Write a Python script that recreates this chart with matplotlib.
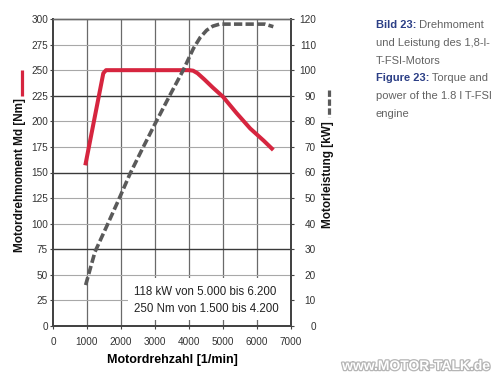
import numpy as np
import matplotlib.pyplot as plt
import matplotlib.patheffects as pe
from matplotlib.lines import Line2D
from matplotlib.patches import Rectangle

plt.rcParams['font.family'] = ['Liberation Sans', 'DejaVu Sans']

# torque curve (rpm, Nm)
rpm_torque = [950, 1480, 1560, 4000, 4120, 4250, 4450, 4700, 5000, 5400, 5800, 6200, 6480]
torque = [157, 247, 250, 250, 249.5, 247, 241, 233, 224, 208, 193, 181, 172]

# power curve (rpm, kW)
rpm_power = [960, 1235, 1580, 1920, 2265, 2600, 3000, 3450, 3830, 4130, 4330, 4520, 4700, 4900, 5200, 6230, 6480]
power = [16, 29, 39, 49, 59.5, 68.5, 79, 90.5, 100, 108.5, 112.8, 115.6, 117.2, 118, 118, 118, 117]

x_ticks = np.arange(0, 7001, 1000)
nm_ticks = np.arange(0, 301, 25)
kw_ticks = np.arange(0, 121, 10)

red = '#d6253f'
gray = '#5a5a5a'

fig = plt.figure(figsize=(5, 3.76), dpi=100)
ax = fig.add_axes([53/500, 1 - 326/376, 238/500, 307/376])
ax2 = ax.twinx()

ax.set_xlim(0, 7000)
ax.set_ylim(0, 300)
ax2.set_ylim(0, 120)
ax.set_xticks(x_ticks)
ax.set_yticks(nm_ticks)
ax2.set_yticks(kw_ticks)

# grid: every third horizontal line darker
for v in x_ticks[1:-1]:
    ax.axvline(v, color='#6a6a6a', lw=0.9, zorder=0.5)
for v in nm_ticks[1:-1]:
    dark = v % 75 == 0
    ax.axhline(v, color='#3a3a3a' if dark else '#a8a8a8', lw=1.0 if dark else 0.8, zorder=0.5)

# white box behind the note
ax.add_patch(Rectangle((0.315, 0.02), 0.685, 0.137, transform=ax.transAxes,
                       fc='white', ec='none', zorder=1))
ax.text(0.34, 0.112, '118 kW von 5.000 bis 6.200', transform=ax.transAxes,
        fontsize=8.3, va='center', ha='left', color='#222222', zorder=2)
ax.text(0.34, 0.056, '250 Nm von 1.500 bis 4.200', transform=ax.transAxes,
        fontsize=8.3, va='center', ha='left', color='#222222', zorder=2)

ax.plot(rpm_torque, torque, color=red, lw=2.9, solid_capstyle='butt',
        solid_joinstyle='round', zorder=3)
ax2.plot(rpm_power, power, color=gray, lw=2.6, dashes=(2.3, 0.9), zorder=3)

for a in (ax, ax2):
    for s in a.spines.values():
        s.set_color('#444444')
        s.set_linewidth(1.0)
    a.spines['left'].set_linewidth(1.4)
    a.spines['right'].set_linewidth(1.4)
    a.spines['bottom'].set_linewidth(1.4)
    a.spines['top'].set_color('#6a6a6a')

ax.tick_params(axis='both', direction='out', length=2, width=0.8, colors='#444444',
               labelsize=7.2, labelcolor='#333333')
ax.tick_params(axis='y', pad=1.5)
ax.tick_params(axis='x', pad=6)
ax2.tick_params(axis='y', direction='out', length=2, width=0.8, colors='#444444',
                labelsize=7.2, labelcolor='#333333', pad=16)
for lab in ax2.get_yticklabels():
    lab.set_ha('right')

ax.set_xlabel('Motordrehzahl [1/min]', fontsize=9, fontweight='bold', labelpad=5)

# axis titles with their line keys
fig.text(20/500, 1 - 252/376, 'Motordrehmoment Md [Nm]', rotation=90, ha='center',
         va='bottom', fontsize=8.5, fontweight='bold', color='#111111')
fig.add_artist(Line2D([21.5/500, 21.5/500], [1 - 70/376, 1 - 96/376], color=red,
                      lw=2.3, solid_capstyle='butt'))
fig.text(328/500, 1 - 228/376, 'Motorleistung [kW]', rotation=90, ha='center',
         va='bottom', fontsize=8.5, fontweight='bold', color='#111111')
fig.add_artist(Line2D([329/500, 329/500], [1 - 90/376, 1 - 117/376], color=gray,
                      lw=2.3, dashes=(2.0, 0.8)))

# caption
narrow = ['Liberation Sans Narrow', 'Liberation Sans', 'DejaVu Sans']
blue = '#2c3f86'
txt_gray = '#636363'
lines = [
    ('Bild 23:', ' Drehmoment'),
    ('', 'und Leistung des 1,8-l-'),
    ('', 'T-FSI-Motors'),
    ('Figure 23:', ' Torque and'),
    ('', 'power of the 1.8 l T-FSI'),
    ('', 'engine'),
]
y0 = 1 - 28/376
for i, (bold, rest) in enumerate(lines):
    y = y0 - i * 17.8/376
    if bold:
        t = fig.text(376/500, y, bold, fontsize=8, family=narrow, fontweight='bold',
                     color=blue, va='baseline')
        ax.annotate(rest, xy=(1, 0), xycoords=t, fontsize=8, family=narrow,
                    color=txt_gray, va='bottom', annotation_clip=False)
    else:
        fig.text(376/500, y, rest, fontsize=8, family=narrow, color=txt_gray, va='baseline')

# watermark
fig.text(416/500, 1 - 366/376, 'www.MOTOR-TALK.de', ha='center', va='center',
         fontsize=10, fontweight='bold', color='white',
         path_effects=[pe.withStroke(linewidth=1.8, foreground='#b5b5b5')])

fig.savefig('out.png', dpi=100)
